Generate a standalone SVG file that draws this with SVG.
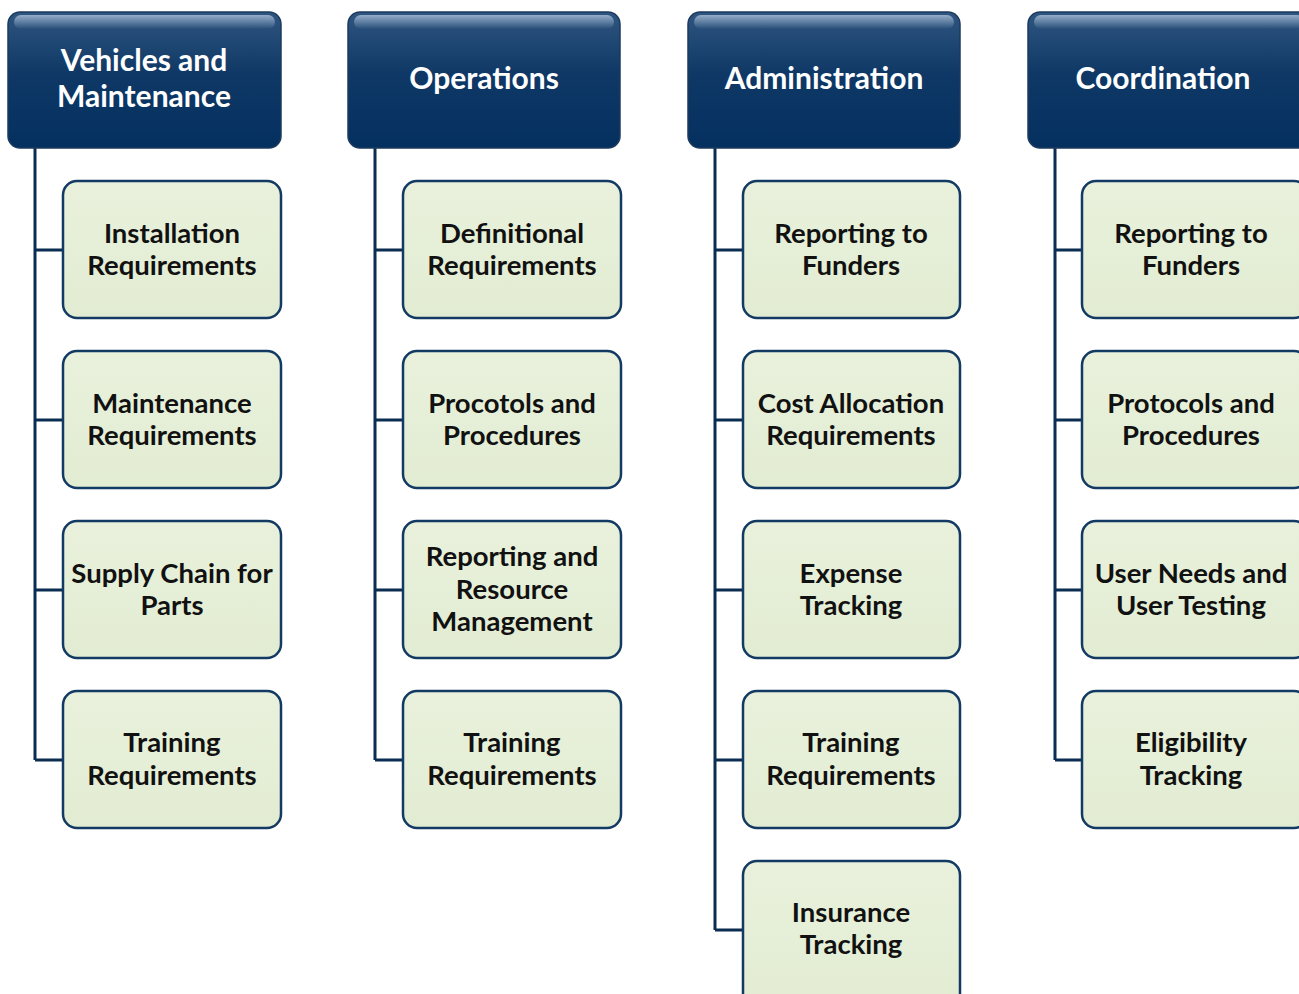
<svg xmlns="http://www.w3.org/2000/svg" width="1299" height="994" viewBox="0 0 1299 994">
  <defs>
    <linearGradient id="hdrFill" x1="0" y1="0" x2="0" y2="1">
      <stop offset="0" stop-color="#2f5680"/>
      <stop offset="0.45" stop-color="#0f3866"/>
      <stop offset="1" stop-color="#04305f"/>
    </linearGradient>
    <linearGradient id="hdrGloss" x1="0" y1="0" x2="0" y2="1">
      <stop offset="0" stop-color="#9fb6d0" stop-opacity="0.9"/>
      <stop offset="1" stop-color="#9fb6d0" stop-opacity="0"/>
    </linearGradient>
    <linearGradient id="boxFill" x1="0" y1="0" x2="0" y2="1">
      <stop offset="0" stop-color="#e9f1dc"/>
      <stop offset="1" stop-color="#e2ecd2"/>
    </linearGradient>
    <style>
      .hdr { fill: url(#hdrFill); stroke: #1c3a5e; stroke-width: 1.5; }
      .gloss { fill: url(#hdrGloss); }
      .hdr-text { font-family: "Lato", "Liberation Sans", sans-serif; font-weight: bold; font-size: 30px; fill: #ffffff; text-anchor: middle; }
      .box { fill: url(#boxFill); stroke: #123a63; stroke-width: 2.5; }
      .box-text { font-family: "Lato", "Liberation Sans", sans-serif; font-weight: bold; font-size: 27.5px; fill: #111111; text-anchor: middle; }
      .conn { fill: none; stroke: #0c2d52; stroke-width: 3; }
    </style>
  </defs>

  <!-- connectors: one trunk per column with branches to each child -->
  <g id="connectors">
    <path class="conn" d="M35 148 V760 M35 250 H62 M35 420 H62 M35 590 H62 M35 760 H62"/>
    <path class="conn" d="M375 148 V760 M375 250 H402 M375 420 H402 M375 590 H402 M375 760 H402"/>
    <path class="conn" d="M715 148 V930 M715 250 H742 M715 420 H742 M715 590 H742 M715 760 H742 M715 930 H742"/>
    <path class="conn" d="M1055 148 V760 M1055 250 H1082 M1055 420 H1082 M1055 590 H1082 M1055 760 H1082"/>
  </g>

  <!-- column headers -->
  <g id="hdr-vehicles">
    <rect class="hdr" x="8" y="12" width="273" height="136" rx="12"/>
    <rect class="gloss" x="14" y="15" width="261" height="14" rx="7"/>
    <text class="hdr-text" x="144" y="71">Vehicles and</text>
    <text class="hdr-text" x="144" y="107">Maintenance</text>
  </g>
  <g id="hdr-operations">
    <rect class="hdr" x="348" y="12" width="272" height="136" rx="12"/>
    <rect class="gloss" x="354" y="15" width="260" height="14" rx="7"/>
    <text class="hdr-text" x="484" y="89">Operations</text>
  </g>
  <g id="hdr-administration">
    <rect class="hdr" x="688" y="12" width="272" height="136" rx="12"/>
    <rect class="gloss" x="694" y="15" width="260" height="14" rx="7"/>
    <text class="hdr-text" x="824" y="89">Administration</text>
  </g>
  <g id="hdr-coordination">
    <rect class="hdr" x="1028" y="12" width="282" height="136" rx="12"/>
    <rect class="gloss" x="1034" y="15" width="270" height="14" rx="7"/>
    <text class="hdr-text" x="1163" y="89">Coordination</text>
  </g>

  <!-- Vehicles and Maintenance children -->
  <g id="vm-installation">
    <rect class="box" x="63" y="181" width="218" height="137" rx="14"/>
    <text class="box-text" x="172" y="243">Installation</text>
    <text class="box-text" x="172" y="275">Requirements</text>
  </g>
  <g id="vm-maintenance">
    <rect class="box" x="63" y="351" width="218" height="137" rx="14"/>
    <text class="box-text" x="172" y="413">Maintenance</text>
    <text class="box-text" x="172" y="445">Requirements</text>
  </g>
  <g id="vm-supply">
    <rect class="box" x="63" y="521" width="218" height="137" rx="14"/>
    <text class="box-text" x="172" y="583">Supply Chain for</text>
    <text class="box-text" x="172" y="615">Parts</text>
  </g>
  <g id="vm-training">
    <rect class="box" x="63" y="691" width="218" height="137" rx="14"/>
    <text class="box-text" x="172" y="752">Training</text>
    <text class="box-text" x="172" y="785">Requirements</text>
  </g>

  <!-- Operations children -->
  <g id="op-definitional">
    <rect class="box" x="403" y="181" width="218" height="137" rx="14"/>
    <text class="box-text" x="512" y="243">Definitional</text>
    <text class="box-text" x="512" y="275">Requirements</text>
  </g>
  <g id="op-protocols">
    <rect class="box" x="403" y="351" width="218" height="137" rx="14"/>
    <text class="box-text" x="512" y="413">Procotols and</text>
    <text class="box-text" x="512" y="445">Procedures</text>
  </g>
  <g id="op-reporting">
    <rect class="box" x="403" y="521" width="218" height="137" rx="14"/>
    <text class="box-text" x="512" y="566">Reporting and</text>
    <text class="box-text" x="512" y="599">Resource</text>
    <text class="box-text" x="512" y="631">Management</text>
  </g>
  <g id="op-training">
    <rect class="box" x="403" y="691" width="218" height="137" rx="14"/>
    <text class="box-text" x="512" y="752">Training</text>
    <text class="box-text" x="512" y="785">Requirements</text>
  </g>

  <!-- Administration children -->
  <g id="ad-funders">
    <rect class="box" x="743" y="181" width="217" height="137" rx="14"/>
    <text class="box-text" x="851" y="243">Reporting to</text>
    <text class="box-text" x="851" y="275">Funders</text>
  </g>
  <g id="ad-cost">
    <rect class="box" x="743" y="351" width="217" height="137" rx="14"/>
    <text class="box-text" x="851" y="413">Cost Allocation</text>
    <text class="box-text" x="851" y="445">Requirements</text>
  </g>
  <g id="ad-expense">
    <rect class="box" x="743" y="521" width="217" height="137" rx="14"/>
    <text class="box-text" x="851" y="583">Expense</text>
    <text class="box-text" x="851" y="615">Tracking</text>
  </g>
  <g id="ad-training">
    <rect class="box" x="743" y="691" width="217" height="137" rx="14"/>
    <text class="box-text" x="851" y="752">Training</text>
    <text class="box-text" x="851" y="785">Requirements</text>
  </g>
  <g id="ad-insurance">
    <rect class="box" x="743" y="861" width="217" height="150" rx="14"/>
    <text class="box-text" x="851" y="922">Insurance</text>
    <text class="box-text" x="851" y="954">Tracking</text>
  </g>

  <!-- Coordination children -->
  <g id="co-funders">
    <rect class="box" x="1082" y="181" width="226" height="137" rx="14"/>
    <text class="box-text" x="1191" y="243">Reporting to</text>
    <text class="box-text" x="1191" y="275">Funders</text>
  </g>
  <g id="co-protocols">
    <rect class="box" x="1082" y="351" width="226" height="137" rx="14"/>
    <text class="box-text" x="1191" y="413">Protocols and</text>
    <text class="box-text" x="1191" y="445">Procedures</text>
  </g>
  <g id="co-userneeds">
    <rect class="box" x="1082" y="521" width="226" height="137" rx="14"/>
    <text class="box-text" x="1191" y="583">User Needs and</text>
    <text class="box-text" x="1191" y="615">User Testing</text>
  </g>
  <g id="co-eligibility">
    <rect class="box" x="1082" y="691" width="226" height="137" rx="14"/>
    <text class="box-text" x="1191" y="752">Eligibility</text>
    <text class="box-text" x="1191" y="785">Tracking</text>
  </g>
</svg>
